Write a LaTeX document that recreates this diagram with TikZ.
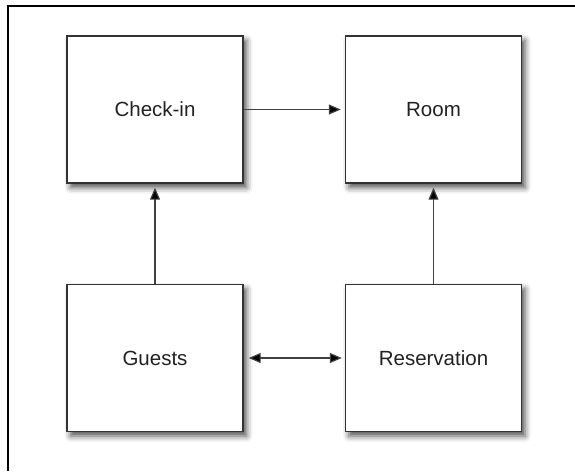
\documentclass[tikz,border=0pt]{standalone}
\usepackage{fontspec}
\setmainfont{Liberation Sans}
\usetikzlibrary{arrows.meta,shadows.blur}
\definecolor{boxline}{HTML}{333333}
\definecolor{arrline}{HTML}{404040}
\definecolor{txt}{HTML}{222222}
\begin{document}
\begin{tikzpicture}[x=1pt,y=-1pt,
  entity/.style={draw=boxline,line width=1.4pt,fill=white,minimum width=176pt,minimum height=147pt,
    inner sep=0pt,font=\fontsize{20.5}{23}\selectfont,text=txt,
    blur shadow={shadow xshift=3.5pt,shadow yshift=-4.5pt,shadow blur radius=6pt,shadow opacity=70}},
  conn/.style={draw=arrline,line width=1.2pt,-{Triangle[length=12pt,width=10pt,fill=black]},shorten >=4pt},
  biconn/.style={draw=arrline,line width=1.2pt,{Triangle[length=12pt,width=10pt,fill=black]}-{Triangle[length=12pt,width=10pt,fill=black]},shorten >=3pt,shorten <=5pt}]
\useasboundingbox (0,0) rectangle (575,471);
\coordinate (tl) at (8,5.5);
\coordinate (tr) at (575,5.5);
\coordinate (bl) at (8,471);
\draw[line width=2pt,black] (tr) -- (tl) -- (bl);
\node[entity] (checkin) at (155,109.5) {Check-in};
\node[entity] (room) at (433.5,109.5) {Room};
\node[entity] (guests) at (155,358) {Guests};
\node[entity] (resv) at (433.5,358) {Reservation};
\draw[conn] (checkin) -- (room);
\draw[conn] (guests) -- (checkin);
\draw[conn] (resv) -- (room);
\draw[biconn] (guests) -- (resv);
\end{tikzpicture}
\end{document}
